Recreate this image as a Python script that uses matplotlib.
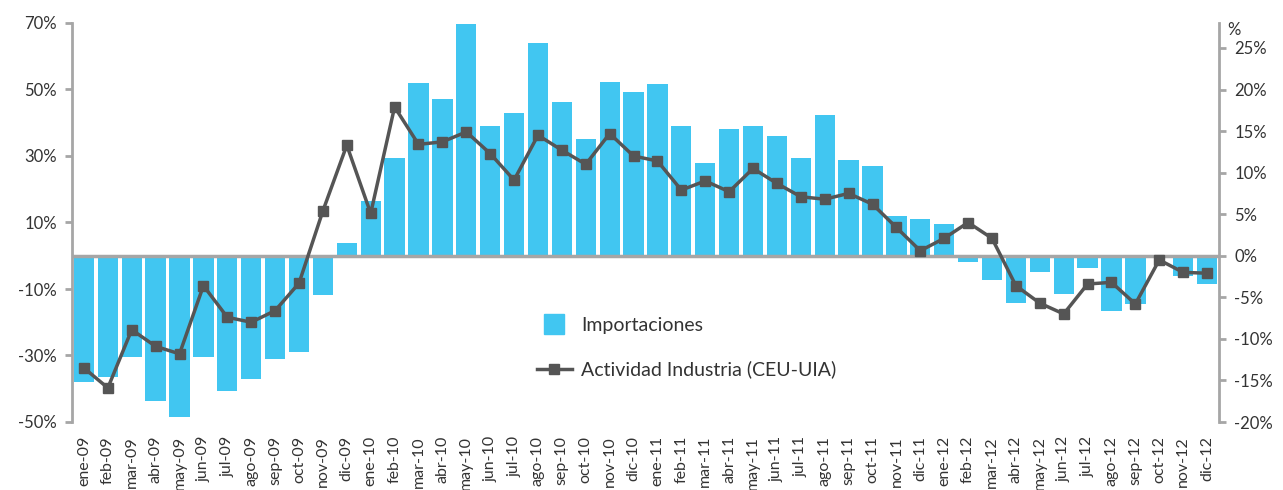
import matplotlib
matplotlib.use("Agg")
import matplotlib.pyplot as plt
from matplotlib.lines import Line2D
import numpy as np

months = ["ene-09","feb-09","mar-09","abr-09","may-09","jun-09","jul-09","ago-09","sep-09","oct-09","nov-09","dic-09",
          "ene-10","feb-10","mar-10","abr-10","may-10","jun-10","jul-10","ago-10","sep-10","oct-10","nov-10","dic-10",
          "ene-11","feb-11","mar-11","abr-11","may-11","jun-11","jul-11","ago-11","sep-11","oct-11","nov-11","dic-11",
          "ene-12","feb-12","mar-12","abr-12","may-12","jun-12","jul-12","ago-12","sep-12","oct-12","nov-12","dic-12"]

importaciones = [-38.0, -36.5, -30.5, -43.7, -48.5, -30.5, -40.7, -37.1, -31.1, -29.0, -11.9, 3.8,
                 16.5, 29.4, 52.0, 47.1, 69.7, 39.0, 42.9, 64.0, 46.2, 35.1, 52.3, 49.2,
                 51.7, 39.0, 27.9, 38.1, 39.0, 36.0, 29.4, 42.3, 28.8, 27.0, 12.0, 11.1,
                 9.6, -2.0, -7.4, -14.2, -5.0, -11.6, -3.7, -16.7, -14.5, 0.0, -6.2, -8.6]

actividad = [-13.5, -15.9, -8.9, -10.9, -11.8, -3.6, -7.4, -8.0, -6.6, -3.3, 5.4, 13.3,
             5.1, 17.9, 13.4, 13.7, 14.9, 12.3, 9.1, 14.5, 12.7, 11.0, 14.7, 12.0,
             11.4, 7.9, 9.0, 7.7, 10.5, 8.7, 7.1, 6.8, 7.5, 6.2, 3.4, 0.6,
             2.1, 4.0, 2.1, -3.6, -5.7, -7.0, -3.4, -3.2, -5.8, -0.5, -2.0, -2.1]

left_ticks = [-50, -30, -10, 10, 30, 50, 70]
right_ticks = [-20, -15, -10, -5, 0, 5, 10, 15, 20, 25]

BAR = "#41C6F1"
LINE = "#555555"
AXC = "#A6A6A6"
TXT = "#333333"

plt.rcParams['font.family'] = ['Lato', 'DejaVu Sans']

fig = plt.figure(figsize=(12.83, 4.90), dpi=100)
ax = fig.add_axes([72/1283, 1 - 422/490, (1219-72)/1283, (422-23)/490])
x = np.arange(len(months))
ax.bar(x, importaciones, width=0.85, color=BAR, zorder=2)
ax.set_xlim(-0.5, len(months) - 0.5)
ax.set_ylim(-50, 70)
ax.set_yticks(left_ticks)
ax.set_yticklabels([f"{t}%" for t in left_ticks])
ax.axhline(0, color=AXC, lw=2.5, zorder=3)
ax.set_xticks(x)
ax.set_xticklabels(months, rotation=90)
ax.tick_params(axis='x', length=0, pad=10, labelsize=11.5, colors=TXT)
ax.tick_params(axis='y', length=5, width=2, color=AXC, labelsize=12, colors=TXT, pad=6)
for s in ['top', 'bottom', 'right']:
    ax.spines[s].set_visible(False)
ax.spines['left'].set_color(AXC)
ax.spines['left'].set_linewidth(2)

ax2 = ax.twinx()
ax2.plot(x, actividad, color=LINE, lw=2.5, marker='s', markersize=7.5, zorder=4)
ax2.set_ylim(-20, 28)
ax2.set_yticks(right_ticks)
ax2.set_yticklabels([f"{t}%" for t in right_ticks])
ax2.tick_params(axis='y', length=5, width=2, color=AXC, labelsize=12, colors=TXT, pad=6)
for s in ['top', 'bottom', 'left']:
    ax2.spines[s].set_visible(False)
ax2.spines['right'].set_color(AXC)
ax2.spines['right'].set_linewidth(2)
fig.text(1227/1283, 1 - 30/490, "%", fontsize=12, color=TXT, va='center', ha='left')

handles = [Line2D([], [], marker='s', linestyle='none', markersize=14, color=BAR),
           Line2D([], [], color=LINE, lw=2.5, marker='s', markersize=7.5)]
fig.legend(handles, ["Importaciones", "Actividad Industria (CEU-UIA)"],
           loc='upper left', bbox_to_anchor=(519/1283, 1 - 299/490), frameon=False,
           fontsize=14, labelspacing=1.4, handlelength=1.8, handletextpad=0.5,
           labelcolor=TXT)

fig.savefig("out.png", dpi=100)
